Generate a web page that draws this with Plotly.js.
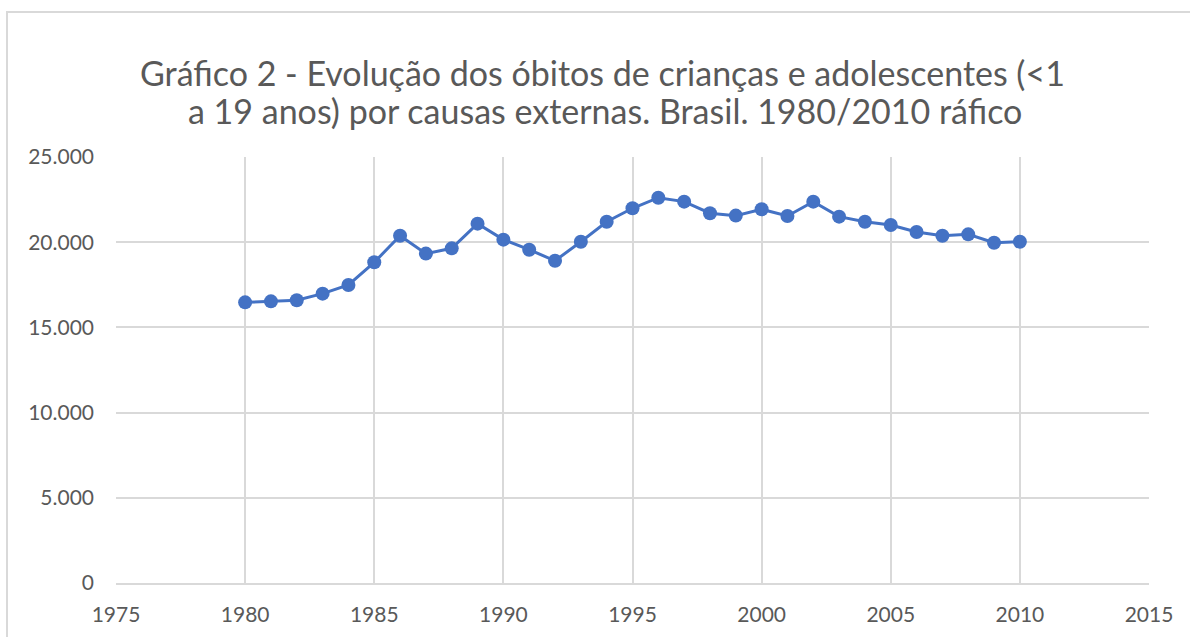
<!DOCTYPE html>
<html>
<head>
<meta charset="utf-8">
<script src="https://cdn.plot.ly/plotly-3.0.1.min.js"></script>
<style>
html,body{margin:0;padding:0;background:#fff;}
#chart{width:1190px;height:637px;}
</style>
</head>
<body>
<div id="chart"></div>
<script>
const years = [1980,1981,1982,1983,1984,1985,1986,1987,1988,1989,1990,1991,1992,1993,1994,1995,1996,1997,1998,1999,2000,2001,2002,2003,2004,2005,2006,2007,2008,2009,2010];
const deaths = [16470,16530,16590,16980,17490,18820,20380,19330,19640,21090,20150,19560,18910,20030,21200,21990,22610,22380,21700,21560,21930,21540,22380,21500,21200,21010,20600,20380,20460,19970,20030];
const yTickVals = [0,5000,10000,15000,20000,25000];
const yTickText = ['0','5.000','10.000','15.000','20.000','25.000'];
const xTickVals = [1975,1980,1985,1990,1995,2000,2005,2010,2015];
const titleLines = ['Gráfico 2 - Evolução dos óbitos de crianças e adolescentes (<1', 'a 19 anos) por causas externas. Brasil. 1980/2010 ráfico'];

const font = 'Lato, "Open Sans", sans-serif';
const trace = {
  x: years, y: deaths, type: 'scatter', mode: 'lines+markers',
  line: {color: '#4472c4', width: 3},
  marker: {color: '#4472c4', size: 14},
  hoverinfo: 'x+y'
};
const titleFont = {family: font, size: 34, color: '#595959'};
const layout = {
  width: 1190, height: 637,
  margin: {l: 116, r: 41, t: 157, b: 54},
  paper_bgcolor: '#ffffff', plot_bgcolor: '#ffffff',
  showlegend: false,
  font: {family: font, color: '#595959', size: 21},
  xaxis: {
    range: [1975, 2015], tickvals: xTickVals, ticktext: xTickVals.map(String),
    showgrid: true, gridcolor: '#d9d9d9', gridwidth: 2,
    showline: true, linecolor: '#d9d9d9', linewidth: 2,
    zeroline: false, ticks: '', ticklabelstandoff: 12,
    tickfont: {family: font, size: 21, color: '#595959'}
  },
  yaxis: {
    range: [0, 25000], tickvals: yTickVals, ticktext: yTickText,
    showgrid: true, gridcolor: '#d9d9d9', gridwidth: 2,
    showline: false, zeroline: false, ticks: '', ticklabelstandoff: 21,
    tickfont: {family: font, size: 21, color: '#595959'}
  },
  annotations: [
    {text: titleLines[0], xref: 'paper', yref: 'paper', x: 0.4705, y: 1.1995,
     xanchor: 'center', yanchor: 'middle', showarrow: false, font: titleFont},
    {text: titleLines[1], xref: 'paper', yref: 'paper', x: 0.4734, y: 1.1080,
     xanchor: 'center', yanchor: 'middle', showarrow: false, font: titleFont}
  ],
  shapes: [{
    type: 'rect', xref: 'paper', yref: 'paper',
    x0: -0.1055, x1: 1.2, y0: -0.3, y1: 1.3404,
    line: {color: '#d9d9d9', width: 2}, fillcolor: 'rgba(0,0,0,0)', layer: 'below'
  }]
};
Plotly.newPlot('chart', [trace], layout, {displayModeBar: false, staticPlot: true});
</script>
</body>
</html>
